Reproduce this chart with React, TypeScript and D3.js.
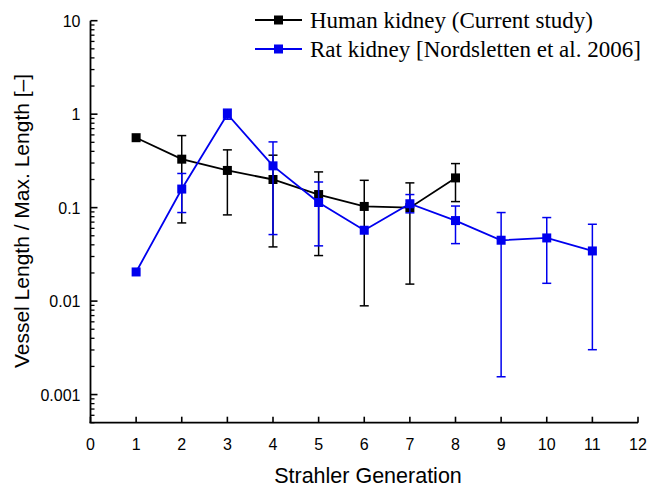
import React, { useEffect, useRef } from "react";
import * as d3 from "d3";

// Strahler generation vs normalised vessel length
const humanGen = [1, 2, 3, 4, 5, 6, 7, 8];
const humanVal = [0.56, 0.33, 0.25, 0.2, 0.138, 0.103, 0.1, 0.208];
const humanHi = [null, 0.59, 0.415, 0.364, 0.241, 0.196, 0.184, 0.296];
const humanLo = [null, 0.0686, 0.0836, 0.038, 0.0307, 0.0089, 0.0152, 0.116];

const ratGen = [1, 2, 3, 4, 5, 6, 7, 8, 9, 10, 11];
const ratVal = [0.0205, 0.158, 1.0, 0.28, 0.1135, 0.0573, 0.11, 0.0727, 0.0448, 0.0474, 0.0344];
const ratHi = [null, 0.232, 1.13, 0.505, 0.188, null, 0.138, 0.104, 0.0886, 0.0783, 0.0664];
const ratLo = [null, 0.0886, 0.883, 0.0515, 0.039, null, 0.088, 0.0412, 0.00155, 0.0155, 0.00302];

const xTicks = [0, 1, 2, 3, 4, 5, 6, 7, 8, 9, 10, 11, 12];
const yTicks = [0.001, 0.01, 0.1, 1, 10];
const yTickLabels = ["0.001", "0.01", "0.1", "1", "10"];

const legendLabels = ["Human kidney (Current study)", "Rat kidney [Nordsletten et al. 2006]"];

const W = 651;
const H = 488;

export default function App() {
  const svgRef = useRef<SVGSVGElement>(null);

  useEffect(() => {
    const svg = d3.select(svgRef.current);
    svg.selectAll("*").remove();

    const left = 90.5;
    const right = 638;
    const top = 20.7;
    const bottom = 422.7;

    const x = d3.scaleLinear().domain([0, 12]).range([left, right]);
    const y = d3.scaleLog().domain([0.0005, 10]).range([bottom, top]);

    const g = svg.append("g");
    const sans = "'Liberation Sans', Arial, sans-serif";

    // minor y ticks (2..9 per decade)
    const minors: number[] = [];
    for (let e = -4; e <= 0; e++) {
      for (let m = 2; m <= 9; m++) {
        const v = m * Math.pow(10, e);
        if (v >= 0.0005 && v < 10) minors.push(v);
      }
    }
    g.selectAll("line.ymin")
      .data(minors)
      .join("line")
      .attr("x1", left)
      .attr("x2", left + 4)
      .attr("y1", (d) => y(d))
      .attr("y2", (d) => y(d))
      .attr("stroke", "#000")
      .attr("stroke-width", 1.3);

    g.selectAll("line.ymaj")
      .data(yTicks)
      .join("line")
      .attr("x1", left)
      .attr("x2", left + 7)
      .attr("y1", (d) => y(d))
      .attr("y2", (d) => y(d))
      .attr("stroke", "#000")
      .attr("stroke-width", 1.6);

    g.selectAll("text.ylab")
      .data(yTicks)
      .join("text")
      .attr("x", left - 10)
      .attr("y", (d) => y(d) + 6)
      .attr("text-anchor", "end")
      .style("font", `16px ${sans}`)
      .text((d, i) => yTickLabels[i]);

    g.selectAll("line.xmaj")
      .data(xTicks)
      .join("line")
      .attr("x1", (d) => x(d))
      .attr("x2", (d) => x(d))
      .attr("y1", bottom)
      .attr("y2", bottom - 6)
      .attr("stroke", "#000")
      .attr("stroke-width", 1.6);

    g.selectAll("text.xlab")
      .data(xTicks)
      .join("text")
      .attr("x", (d) => x(d))
      .attr("y", 449.5)
      .attr("text-anchor", "middle")
      .style("font", `16px ${sans}`)
      .text((d) => String(d));

    // axis lines
    g.append("line")
      .attr("x1", left)
      .attr("x2", left)
      .attr("y1", top)
      .attr("y2", bottom)
      .attr("stroke", "#000")
      .attr("stroke-width", 1.8);
    g.append("line")
      .attr("x1", left - 1)
      .attr("x2", right)
      .attr("y1", bottom)
      .attr("y2", bottom)
      .attr("stroke", "#000")
      .attr("stroke-width", 1.8);

    // axis titles
    g.append("text")
      .attr("x", 368)
      .attr("y", 483)
      .attr("text-anchor", "middle")
      .style("font", `21.5px ${sans}`)
      .text("Strahler Generation");
    g.append("text")
      .attr("transform", `translate(28.5, 221) rotate(-90)`)
      .attr("text-anchor", "middle")
      .style("font", `21px ${sans}`)
      .text("Vessel Length / Max. Length [\u2013]");

    const series = [
      { gen: humanGen, val: humanVal, hi: humanHi, lo: humanLo, color: "#000000" },
      { gen: ratGen, val: ratVal, hi: ratHi, lo: ratLo, color: "#0000ee" },
    ];

    series.forEach((s) => {
      const sg = g.append("g");
      const idx = d3.range(s.gen.length);
      // error bars
      idx.forEach((i) => {
        const hi = s.hi[i];
        const lo = s.lo[i];
        if (hi == null || lo == null) return;
        const cx = x(s.gen[i]);
        sg.append("line")
          .attr("x1", cx)
          .attr("x2", cx)
          .attr("y1", y(hi))
          .attr("y2", y(lo))
          .attr("stroke", s.color)
          .attr("stroke-width", 1.5);
        [hi, lo].forEach((v) => {
          sg.append("line")
            .attr("x1", cx - 4.5)
            .attr("x2", cx + 4.5)
            .attr("y1", y(v))
            .attr("y2", y(v))
            .attr("stroke", s.color)
            .attr("stroke-width", 1.5);
        });
      });
      const path = d3
        .line<number>()
        .x((i) => x(s.gen[i]))
        .y((i) => y(s.val[i]));
      sg.append("path")
        .attr("d", path(idx))
        .attr("fill", "none")
        .attr("stroke", s.color)
        .attr("stroke-width", 1.8);
      sg.selectAll("rect")
        .data(idx)
        .join("rect")
        .attr("x", (i) => x(s.gen[i]) - 4.5)
        .attr("y", (i) => y(s.val[i]) - 4.5)
        .attr("width", 9)
        .attr("height", 9)
        .attr("fill", s.color);
    });

    // legend
    const lg = g.append("g");
    series.forEach((s, i) => {
      const ly = 20 + i * 29;
      lg.append("line")
        .attr("x1", 255)
        .attr("x2", 302)
        .attr("y1", ly)
        .attr("y2", ly)
        .attr("stroke", s.color)
        .attr("stroke-width", 1.8);
      lg.append("rect")
        .attr("x", 278.5 - 4.5)
        .attr("y", ly - 4.5)
        .attr("width", 9)
        .attr("height", 9)
        .attr("fill", s.color);
      lg.append("text")
        .attr("x", 310)
        .attr("y", ly + 8)
        .style("font", "23px 'Liberation Serif', 'Times New Roman', serif")
        .text(legendLabels[i]);
    });
  }, []);

  return (
    <svg
      ref={svgRef}
      width={W}
      height={H}
      style={{ position: "absolute", left: 0, top: 0, background: "#fff" }}
    />
  );
}
